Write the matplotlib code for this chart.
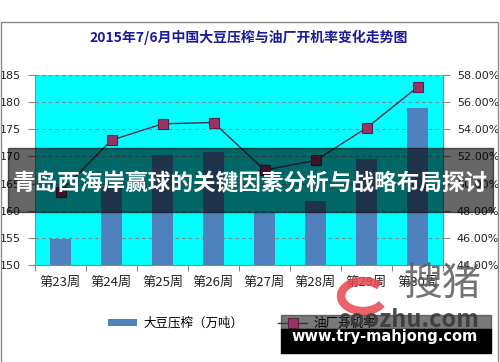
import matplotlib
matplotlib.use('Agg')
import matplotlib.pyplot as plt
import matplotlib.patches as mpatches
from matplotlib.ticker import FuncFormatter

plt.rcParams['font.family'] = ['Noto Sans CJK SC', 'DejaVu Sans']

weeks = ['第23周', '第24周', '第25周', '第26周', '第27周', '第28周', '第29周', '第30周']
crush = [154.7, 164.4, 170.3, 170.9, 159.6, 161.8, 169.5, 178.9]
run_rate = [49.4, 53.2, 54.4, 54.5, 51.0, 51.7, 54.1, 57.1]

title = '2015年7/6月中国大豆压榨与油厂开机率变化走势图'
banner = '青岛西海岸赢球的关键因素分析与战略布局探讨'

W, H = 500, 362


def fx(px):
    return px / W


def fy(py):
    return 1 - py / H


fig = plt.figure(figsize=(5, 3.62), dpi=100)

# outer chart border
fig.patches.append(mpatches.Rectangle((fx(0.5), fy(380)), fx(497), fy(22) - fy(380),
                                      transform=fig.transFigure, fill=False,
                                      edgecolor='#8a8a8a', linewidth=1))

ax = fig.add_axes([fx(35), fy(265), fx(443) - fx(35), fy(75) - fy(265)])
ax.set_facecolor('#00ffff')
x = range(len(weeks))
ax.bar(x, crush, width=0.4, color='#4f81bd', zorder=2, label='大豆压榨（万吨）')
ax.set_ylim(150, 185)
ax.set_yticks(range(150, 186, 5))
ax.set_xlim(-0.5, len(weeks) - 0.5)
ax.set_xticks([i - 0.5 for i in range(len(weeks) + 1)])
ax.set_xticklabels([])
ax.set_xticks(list(x), minor=True)
ax.set_xticklabels(weeks, minor=True, fontsize=9.5, color='#222222')
ax.tick_params(axis='x', which='minor', length=0, pad=8)
ax.tick_params(axis='x', which='major', length=4, color='#888888')
ax.tick_params(axis='y', length=5, color='#888888', labelsize=8, labelcolor='#222222', pad=5)
for lab in ax.get_yticklabels():
    lab.set_family('DejaVu Sans')
ax.yaxis.grid(True, linestyle=(0, (3, 3)), color='#7a8a8a', linewidth=0.8, zorder=1)
ax.set_axisbelow(True)
ax.spines['top'].set_visible(False)
for s in ['left', 'bottom', 'right']:
    ax.spines[s].set_color('#8a8a8a')

ax2 = ax.twinx()
ax2.plot(list(x), run_rate, color='#4a2c4a', linewidth=1, marker='s', markersize=7,
         markerfacecolor='#993366', markeredgecolor='#5a2040', markeredgewidth=0.8,
         zorder=3, label='油厂开机率')
ax2.set_ylim(44, 58)
ax2.set_yticks(range(44, 59, 2))
ax2.yaxis.set_major_formatter(FuncFormatter(lambda v, p: f'{v:.2f}%'))
ax2.tick_params(axis='y', length=5, color='#888888', labelsize=8, labelcolor='#222222', pad=5)
for lab in ax2.get_yticklabels():
    lab.set_family('DejaVu Sans')
for s in ['top', 'left', 'bottom']:
    ax2.spines[s].set_visible(False)
ax2.spines['right'].set_color('#8a8a8a')

fig.text(fx(249), fy(37), title, ha='center', va='center', fontsize=10,
         fontweight='bold', color='#1a1a9a')

h1, l1 = ax.get_legend_handles_labels()
h2, l2 = ax2.get_legend_handles_labels()
leg = fig.legend(h1 + h2, l1 + l2, loc='center', bbox_to_anchor=(fx(242), fy(323)),
                 ncol=2, frameon=False, fontsize=9, handlelength=2.3, columnspacing=2.8,
                 handleheight=0.5, handletextpad=0.5)
leg.set_zorder(13)

# overlay banner
fig.patches.append(mpatches.Rectangle((fx(8), fy(212)), fx(493) - fx(8), fy(148) - fy(212),
                                      transform=fig.transFigure, color='black', alpha=0.6,
                                      zorder=10))
fig.text(fx(250), fy(184), banner, ha='center', va='center', fontsize=16.3,
         fontweight='bold', color='white', zorder=11)

# watermark
fig.patches.append(mpatches.Arc((fx(363), fy(296)), fx(44), fy(282) - fy(312), theta1=40,
                                theta2=330, transform=fig.transFigure, color='#e84850',
                                linewidth=6, alpha=0.85, zorder=12))
fig.text(fx(442), fy(284), '搜猪', ha='center', va='center', fontsize=28,
         color='#5a5a5a', alpha=0.85, zorder=12)
fig.patches.append(mpatches.Rectangle((fx(281), fy(329)), fx(210), fy(315) - fy(329),
                                      transform=fig.transFigure, color='#404040', alpha=0.7,
                                      zorder=12))
fig.text(fx(409), fy(320), 'soozhu.com', ha='center', va='center', fontsize=17,
         fontweight='bold', color='#3a3a3a', alpha=0.9, zorder=14)
fig.patches.append(mpatches.Rectangle((fx(281), fy(353)), fx(210), fy(329) - fy(353),
                                      transform=fig.transFigure, color='black', zorder=15))
fig.text(fx(385), fy(336), 'www.try-mahjong.com', ha='center', va='center', fontsize=10.5,
         fontweight='bold', color='white', family='DejaVu Sans', zorder=16)

fig.savefig('out.png', dpi=100)
